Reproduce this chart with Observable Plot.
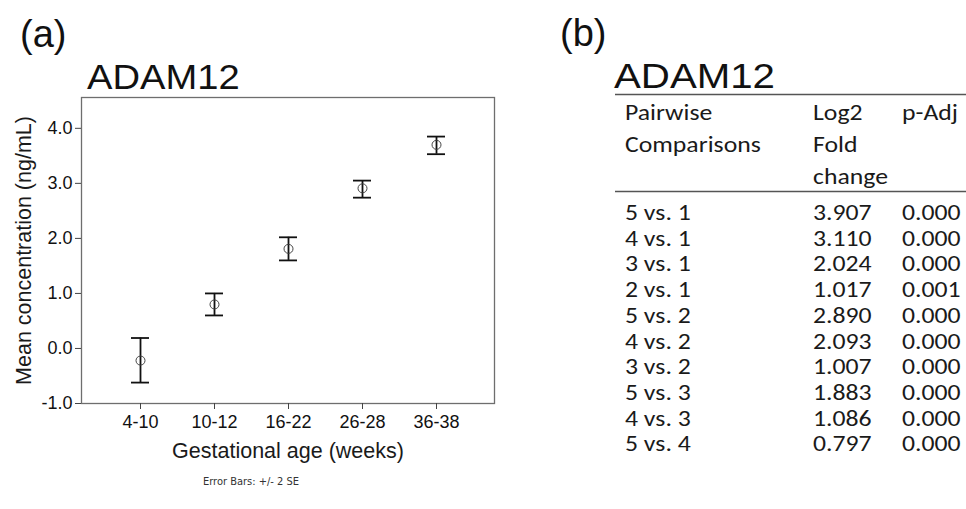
<!DOCTYPE html>
<html><head><meta charset="utf-8">
<script src="https://cdn.jsdelivr.net/npm/d3@7"></script>
<script src="https://cdn.jsdelivr.net/npm/@observablehq/plot@0.6"></script>
<style>
html,body{margin:0;padding:0;background:#fff;}
#root{position:relative;width:966px;height:509px;overflow:hidden;font-family:"Liberation Sans",Arial,sans-serif;color:#111;}
#root svg{position:absolute;left:0;top:0;}
</style></head><body><div id="root"></div>
<script>
// ---- chart data (panel a) ----
const ages = ["4-10", "10-12", "16-22", "26-28", "36-38"];
const means = [-0.22, 0.80, 1.81, 2.91, 3.70];
const lower = [-0.62, 0.60, 1.60, 2.74, 3.53];
const upper = [0.19, 1.00, 2.02, 3.05, 3.85];
const yTicks = [-1, 0, 1, 2, 3, 4];
const xLabel = "Gestational age (weeks)";
const yLabel = "Mean concentration (ng/mL)";
const caption = "Error Bars: +/- 2 SE";
const panelA = "(a)";
const panelB = "(b)";
const title = "ADAM12";

// ---- table data (panel b) ----
const comparisons = ["5 vs. 1", "4 vs. 1", "3 vs. 1", "2 vs. 1", "5 vs. 2", "4 vs. 2", "3 vs. 2", "5 vs. 3", "4 vs. 3", "5 vs. 4"];
const log2fc = ["3.907", "3.110", "2.024", "1.017", "2.890", "2.093", "1.007", "1.883", "1.086", "0.797"];
const pAdj = ["0.000", "0.000", "0.000", "0.001", "0.000", "0.000", "0.000", "0.000", "0.000", "0.000"];
const headerCol1 = ["Pairwise", "Comparisons"];
const headerCol2 = ["Log2", "Fold", "change"];
const headerCol3 = ["p-Adj"];

const data = ages.map((a, i) => ({age: a, mean: means[i], lo: lower[i], hi: upper[i]}));

const root = document.getElementById("root");

const chart = Plot.plot({
  width: 520, height: 509,
  marginLeft: 81, marginRight: 26, marginTop: 97, marginBottom: 106,
  style: {fontFamily: "'Liberation Sans', Arial, sans-serif", color: "#111", background: "transparent", overflow: "visible"},
  x: {type: "band", domain: ages, paddingInner: 0.7586, paddingOuter: 0.6506, label: null},
  y: {domain: [-1, 4.56], label: null},
  marks: [
    Plot.frame({stroke: "#6e6e6e", strokeWidth: 1.3}),
    Plot.axisY(yTicks, {tickSize: 6, tickPadding: 3, tickFormat: d => d.toFixed(1), fontSize: 18, label: null, stroke: "#444"}),
    Plot.axisX({tickSize: 6, tickPadding: 6, fontSize: 18, label: null, stroke: "#444"}),
    Plot.ruleX(data, {x: "age", y1: "lo", y2: "hi", stroke: "#111", strokeWidth: 1.8}),
    Plot.tickY(data, {x: "age", y: "lo", stroke: "#111", strokeWidth: 1.8}),
    Plot.tickY(data, {x: "age", y: "hi", stroke: "#111", strokeWidth: 1.8}),
    Plot.dot(data, {x: "age", y: "mean", r: 4.5, stroke: "#444", strokeWidth: 1, fill: "none"}),
    Plot.text([xLabel], {text: d => d, frameAnchor: "bottom", lineAnchor: "bottom", dy: 54, fontSize: 21.5, fill: "#1a1a1a"}),
    Plot.text([yLabel], {text: d => d, frameAnchor: "left", textAnchor: "middle", rotate: -90, dx: -57, fontSize: 21.5, fill: "#1a1a1a"}),
    Plot.text([caption], {text: d => d, frameAnchor: "bottom", lineAnchor: "bottom", dx: -37, dy: 81, fontSize: 11, fontFamily: "'Liberation Sans Narrow', 'DejaVu Sans Condensed', sans-serif", fill: "#333"})
  ]
});
root.appendChild(chart);

// ---- overlay: titles and table (panel b) ----
const svg = d3.select(root).append("svg")
  .attr("width", 966).attr("height", 509)
  .style("pointer-events", "none");

function label(txt, x, baseline, size, sx, family, fill) {
  return svg.append("text")
    .attr("transform", `translate(${x},${baseline}) scale(${sx},1)`)
    .attr("font-family", family || "'Liberation Sans', Arial, sans-serif")
    .attr("font-size", size)
    .attr("fill", fill || "#111")
    .text(txt);
}
label(panelA, 20, 47, 38, 1);
label(title, 87, 89, 35, 1.09);
label(panelB, 560, 46, 38, 1);
label(title, 614, 88, 35, 1.15);

const tFont = "Carlito, Calibri, Lato, sans-serif";
const tSize = 22, tSx = 1.17;
const colX = [625, 813, 902];
const headBase = [120, 152, 184];
[headerCol1, headerCol2, headerCol3].forEach((col, c) =>
  col.forEach((t, j) => label(t, colX[c], headBase[j], tSize, tSx, tFont, "#1a1a1a")));
[94.5, 191.5].forEach(y => svg.append("line")
  .attr("x1", 615).attr("x2", 966).attr("y1", y).attr("y2", y)
  .attr("stroke", "#555").attr("stroke-width", 1.5));
comparisons.forEach((c, i) => {
  const b = 220 + i * 25.7;
  label(c, colX[0], b, tSize, tSx, tFont, "#1a1a1a");
  label(log2fc[i], colX[1], b, tSize, tSx, tFont, "#1a1a1a");
  label(pAdj[i], colX[2], b, tSize, tSx, tFont, "#1a1a1a");
});
</script></body></html>
